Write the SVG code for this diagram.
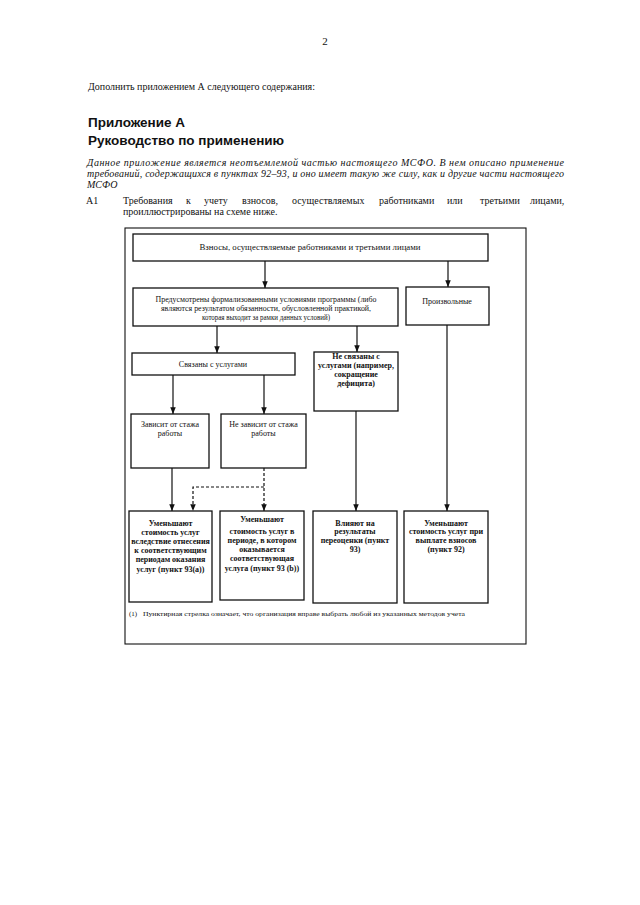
<svg xmlns="http://www.w3.org/2000/svg" width="640" height="905" viewBox="0 0 640 905">
<style>
.t{font-family:"Liberation Serif","Times New Roman",serif;fill:#111}
.d{font-family:"Liberation Serif","Times New Roman",serif;font-size:8px;fill:#111;text-anchor:middle}
.b{font-weight:bold}
.h{font-family:"Liberation Sans",Arial,sans-serif;font-weight:bold;font-size:13.5px;fill:#111}
.box{fill:#fff;stroke:#111;stroke-width:1.3}
.ln{fill:none;stroke:#111;stroke-width:1.2}
.ds{stroke-dasharray:3,2}
</style>
<defs>
<marker id="ah" viewBox="0 0 10 8" refX="10" refY="4" markerWidth="7" markerHeight="5.5" orient="auto" markerUnits="userSpaceOnUse">
<path d="M0,0 L10,4 L0,8 Z" fill="#111"/>
</marker>
</defs>
<rect width="640" height="905" fill="#fff"/>
<text class="t" x="325" y="45" font-size="11" text-anchor="middle">2</text>
<text class="t" x="88" y="90" font-size="10" textLength="227" lengthAdjust="spacingAndGlyphs">Дополнить приложением А следующего содержания:</text>
<text class="h" x="88" y="127">Приложение А</text>
<text class="h" x="88" y="145">Руководство по применению</text>
<g class="t" font-size="10" font-style="italic">
<text x="87" y="166" textLength="477" lengthAdjust="spacing">Данное приложение является неотъемлемой частью настоящего МСФО. В нем описано применение</text>
<text x="87" y="177" textLength="477" lengthAdjust="spacing">требований, содержащихся в пунктах 92–93, и оно имеет такую же силу, как и другие части настоящего</text>
<text x="87" y="188">МСФО</text>
</g>
<g class="t" font-size="10">
<text x="86" y="204">A1</text>
<text y="204"><tspan x="123">Требования</tspan><tspan x="186">к</tspan><tspan x="204">учету</tspan><tspan x="242">взносов,</tspan><tspan x="292">осуществляемых</tspan><tspan x="379">работниками</tspan><tspan x="447">или</tspan><tspan x="480">третьими</tspan><tspan x="530">лицами,</tspan></text>
<text x="123" y="215">проиллюстрированы на схеме ниже.</text>
</g>
<rect x="125" y="228" width="401" height="416" fill="none" stroke="#111" stroke-width="1.1"/>
<g id="connectors">
<path class="ln" d="M265,261 V288" marker-end="url(#ah)"/>
<path class="ln" d="M448,261 V287" marker-end="url(#ah)"/>
<path class="ln" d="M217,326 V353" marker-end="url(#ah)"/>
<path class="ln" d="M357,326 V352" marker-end="url(#ah)"/>
<path class="ln" d="M173,375 V414" marker-end="url(#ah)"/>
<path class="ln" d="M264,375 V414" marker-end="url(#ah)"/>
<path class="ln" d="M172,468 V511" marker-end="url(#ah)"/>
<path class="ln ds" d="M264,468 V511" marker-end="url(#ah)"/>
<path class="ln ds" d="M264,487 H193 V511" marker-end="url(#ah)"/>
<path class="ln" d="M356,411 V511" marker-end="url(#ah)"/>
<path class="ln" d="M447,325 V511" marker-end="url(#ah)"/>
</g>
<g id="n1"><rect class="box" x="133" y="234" width="355" height="27"/>
<text class="d" x="310" y="250" textLength="221" lengthAdjust="spacingAndGlyphs">Взносы, осуществляемые работниками и третьими лицами</text></g>
<g id="n2"><rect class="box" x="133" y="288" width="265" height="38"/>
<text class="d" x="266" y="302" textLength="221" lengthAdjust="spacingAndGlyphs">Предусмотрены формализованными условиями программы (либо</text>
<text class="d" x="266" y="311" textLength="210" lengthAdjust="spacingAndGlyphs">являются результатом обязанности, обусловленной практикой,</text>
<text class="d" x="266" y="320" textLength="128" lengthAdjust="spacingAndGlyphs">которая выходит за рамки данных условий)</text></g>
<g id="n3"><rect class="box" x="406" y="287" width="83" height="38"/>
<text class="d" x="447" y="304">Произвольные</text></g>
<g id="n4"><rect class="box" x="132" y="353" width="163" height="22"/>
<text class="d" x="213" y="367">Связаны с услугами</text></g>
<g id="n5"><rect class="box" x="314" y="352" width="84" height="59"/>
<g class="b"><text class="d" x="356" y="359">Не связаны с</text>
<text class="d" x="356" y="368">услугами (например,</text>
<text class="d" x="356" y="377">сокращение</text>
<text class="d" x="356" y="386">дефицита)</text></g></g>
<g id="n6"><rect class="box" x="131" y="414" width="78" height="54"/>
<text class="d" x="170" y="427">Зависит от стажа</text>
<text class="d" x="170" y="436">работы</text></g>
<g id="n7"><rect class="box" x="221" y="414" width="85" height="54"/>
<text class="d" x="263.5" y="427">Не зависит от стажа</text>
<text class="d" x="263.5" y="436">работы</text></g>
<g id="n8"><rect class="box" x="129" y="511" width="83" height="91"/>
<g class="b"><text class="d" x="170.5" y="526">Уменьшают</text>
<text class="d" x="170.5" y="535">стоимость услуг</text>
<text class="d" x="170.5" y="544">вследствие отнесения</text>
<text class="d" x="170.5" y="553">к соответствующим</text>
<text class="d" x="170.5" y="562">периодам оказания</text>
<text class="d" x="170.5" y="572">услуг (пункт 93(a))</text></g></g>
<g id="n9"><rect class="box" x="220" y="511" width="84" height="89"/>
<g class="b"><text class="d" x="262" y="522">Уменьшают</text>
<text class="d" x="262" y="534">стоимость услуг в</text>
<text class="d" x="262" y="543">периоде, в котором</text>
<text class="d" x="262" y="552">оказывается</text>
<text class="d" x="262" y="561">соответствующая</text>
<text class="d" x="262" y="571">услуга (пункт 93 (b))</text></g></g>
<g id="n10"><rect class="box" x="313" y="511" width="84" height="92"/>
<g class="b"><text class="d" x="355" y="526">Влияют на</text>
<text class="d" x="355" y="534">результаты</text>
<text class="d" x="355" y="543">переоценки (пункт</text>
<text class="d" x="355" y="552">93)</text></g></g>
<g id="n11"><rect class="box" x="404" y="511" width="84" height="92"/>
<g class="b"><text class="d" x="446" y="526">Уменьшают</text>
<text class="d" x="446" y="534">стоимость услуг при</text>
<text class="d" x="446" y="543">выплате взносов</text>
<text class="d" x="446" y="552">(пункт 92)</text></g></g>
<g class="t" font-size="7">
<text x="129" y="616">(1)</text>
<text x="143" y="616" textLength="322" lengthAdjust="spacingAndGlyphs">Пунктирная стрелка означает, что организация вправе выбрать любой из указанных методов учета</text>
</g>
</svg>
